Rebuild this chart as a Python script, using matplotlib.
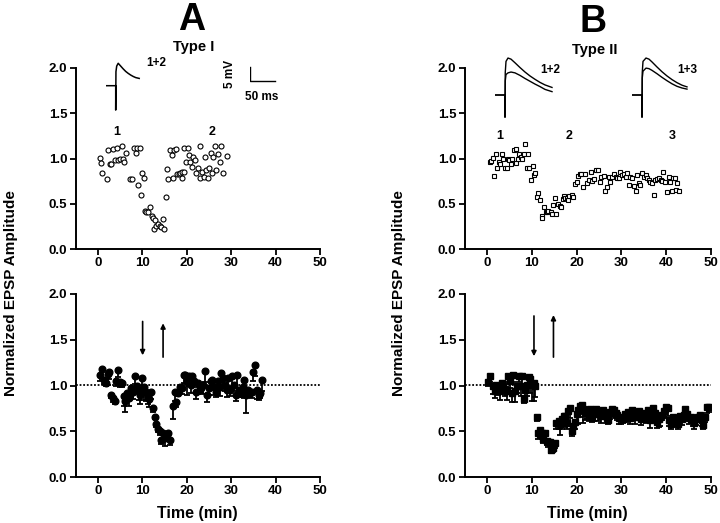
import numpy as np
import matplotlib
matplotlib.use("Agg")
import matplotlib.pyplot as plt

plt.rcParams['font.family'] = ['Liberation Sans', 'DejaVu Sans']
plt.rcParams['font.weight'] = 'bold'

# ----- single experiments (top row) -----
t1 = [0.4, 0.7, 1.0, 2.1, 2.4, 2.75, 3.0, 3.4, 3.9, 4.4,
      4.5, 4.9, 5.4, 5.7, 6.0, 6.4, 7.2, 7.7, 8.2, 8.5,
      8.8, 9.1, 9.4, 9.7, 10.0, 10.3, 10.6, 10.9, 11.3, 11.7,
      12.1, 12.4, 12.6, 12.9, 13.2, 13.6, 13.9, 14.3, 14.7, 15.0,
      15.3, 15.6, 15.9, 16.3, 16.6, 17.0, 17.2, 17.6, 17.9, 18.2,
      18.6, 18.9, 19.0, 19.4, 19.5, 19.8, 20.2, 20.5, 20.8, 21.1,
      21.4, 21.9, 22.1, 22.6, 22.9, 23.1, 23.5, 23.8, 24.2, 24.4,
      24.8, 25.1, 25.4, 25.7, 26.0, 26.4, 26.7, 27.0, 27.5, 27.8,
      28.1, 29.1]
v1 = [1.01, 0.95, 0.84, 0.77, 1.09, 0.94, 0.94, 1.11, 0.98, 1.12,
      0.98, 0.99, 1.14, 1.00, 0.96, 1.06, 0.77, 0.77, 1.12, 1.06,
      1.12, 0.71, 1.12, 0.60, 0.84, 0.79, 0.42, 0.41, 0.41, 0.46,
      0.37, 0.34, 0.22, 0.32, 0.25, 0.28, 0.25, 0.24, 0.33, 0.22,
      0.58, 0.88, 0.77, 1.09, 1.04, 0.78, 1.09, 1.11, 0.83, 0.83,
      0.84, 0.79, 0.85, 0.85, 1.12, 0.96, 1.12, 1.04, 0.96, 0.91,
      1.02, 0.98, 0.84, 0.90, 1.14, 0.79, 0.85, 0.80, 1.02, 0.87,
      0.79, 0.90, 1.06, 0.84, 1.02, 1.14, 0.87, 1.05, 0.96, 1.14,
      0.84, 1.03]

t2 = [0.7, 1.0, 1.3, 1.6, 2.0, 2.3, 2.7, 3.0, 3.4, 3.7,
      4.0, 4.4, 4.7, 5.0, 5.3, 5.7, 6.0, 6.4, 6.6, 6.9,
      7.2, 7.5, 7.8, 8.2, 8.5, 8.9, 9.2, 9.5, 9.8, 10.2,
      10.5, 10.8, 11.1, 11.4, 11.9, 12.2, 12.4, 12.8, 13.1, 13.4,
      13.7, 14.2, 14.6, 14.8, 15.1, 15.4, 15.8, 16.2, 16.6, 16.9,
      17.2, 17.5, 17.8, 18.1, 18.4, 18.9, 19.2, 19.7, 20.0, 20.3,
      20.7, 21.1, 21.5, 21.9, 22.3, 22.8, 23.2, 23.5, 23.9, 24.4,
      24.8, 25.2, 25.5, 26.1, 26.4, 26.7, 27.2, 27.5, 27.9, 28.3,
      28.7, 29.1, 29.5, 29.8, 30.2, 30.5, 31.0, 31.3, 31.7, 32.0,
      32.4, 32.8, 33.2, 33.5, 33.9, 34.2, 34.6, 35.0, 35.4, 35.8,
      36.2, 36.5, 36.9, 37.2, 37.5, 38.0, 38.5, 38.8, 39.1, 39.4,
      39.8, 40.2, 40.6, 40.9, 41.2, 41.5, 41.9, 42.1, 42.5, 42.8]
v2 = [0.96, 0.97, 1.01, 0.81, 1.05, 0.90, 0.96, 0.94, 1.05, 0.99,
      0.90, 0.90, 1.00, 0.98, 0.94, 0.99, 1.09, 1.10, 0.95, 0.99,
      1.05, 1.02, 0.99, 1.05, 1.16, 0.90, 1.05, 0.90, 0.76, 0.92,
      0.82, 0.84, 0.57, 0.62, 0.54, 0.37, 0.34, 0.46, 0.41, 0.41,
      0.42, 0.41, 0.39, 0.49, 0.56, 0.39, 0.50, 0.47, 0.46, 0.55,
      0.59, 0.56, 0.56, 0.54, 0.59, 0.60, 0.58, 0.72, 0.74, 0.81,
      0.83, 0.83, 0.69, 0.83, 0.73, 0.76, 0.85, 0.75, 0.77, 0.87,
      0.87, 0.74, 0.80, 0.81, 0.64, 0.69, 0.80, 0.74, 0.80, 0.83,
      0.80, 0.78, 0.79, 0.85, 0.82, 0.83, 0.80, 0.84, 0.71, 0.80,
      0.78, 0.70, 0.64, 0.82, 0.73, 0.71, 0.84, 0.80, 0.82, 0.78,
      0.76, 0.74, 0.73, 0.60, 0.76, 0.77, 0.79, 0.76, 0.75, 0.85,
      0.74, 0.63, 0.80, 0.74, 0.64, 0.78, 0.78, 0.65, 0.73, 0.64]

# ----- pooled data, mean with lower SEM (bottom row) -----
t3 = [0.5, 0.9, 1.3, 1.8, 2.2, 2.6, 3.0, 3.4, 3.8, 4.2,
      4.6, 5.0, 5.4, 5.8, 6.2, 6.6, 7.0, 7.5, 8.0, 8.4,
      8.8, 9.2, 9.6, 10.0, 10.4, 10.8, 11.2, 11.6, 12.0, 12.4,
      12.8, 13.2, 13.6, 14.0, 14.3, 14.7, 15.1, 15.5, 15.9, 16.3,
      16.9, 17.3, 17.7, 18.1, 18.5, 18.9, 19.3, 19.7, 20.1, 20.5,
      20.9, 21.3, 21.7, 22.1, 22.5, 22.9, 23.3, 23.7, 24.2, 24.6,
      25.0, 25.4, 25.8, 26.2, 26.6, 27.0, 27.4, 27.8, 28.2, 28.6,
      29.0, 29.4, 29.8, 30.2, 30.6, 31.0, 31.4, 31.8, 32.2, 32.6,
      33.0, 33.4, 33.8, 34.2, 34.6, 35.0, 35.4, 35.8, 36.2, 36.6,
      37.0]
v3 = [1.12, 1.18, 1.06, 1.03, 1.13, 1.15, 0.90, 0.86, 0.83, 1.05,
      1.17, 1.04, 1.03, 0.88, 0.83, 0.92, 0.86, 0.97, 0.93, 1.10,
      1.00, 0.94, 0.90, 1.08, 0.98, 0.93, 0.89, 0.85, 0.93, 0.75,
      0.66, 0.58, 0.52, 0.50, 0.40, 0.48, 0.43, 0.47, 0.48, 0.40,
      0.78, 0.93, 0.82, 0.92, 0.98, 0.97, 1.11, 1.12, 1.05, 1.10,
      1.01, 1.10, 1.05, 0.93, 1.03, 1.00, 0.97, 1.01, 1.16, 0.90,
      0.97, 1.05, 1.06, 0.98, 0.93, 1.05, 0.98, 1.14, 1.08, 1.01,
      0.95, 1.08, 0.95, 1.10, 1.01, 0.90, 1.12, 0.95, 0.93, 0.98,
      1.06, 0.90, 0.95, 0.92, 0.93, 1.15, 1.22, 0.95, 0.90, 0.92,
      1.06]
e3 = [0.07, 0.10, 0.04, 0.04, 0.12, 0.08, 0.04, 0.04, 0.03, 0.05,
      0.08, 0.06, 0.05, 0.10, 0.12, 0.04, 0.08, 0.10, 0.08, 0.08,
      0.07, 0.10, 0.10, 0.14, 0.14, 0.10, 0.09, 0.08, 0.08, 0.04,
      0.03, 0.03, 0.03, 0.04, 0.04, 0.07, 0.09, 0.08, 0.06, 0.05,
      0.15, 0.10, 0.06, 0.04, 0.07, 0.06, 0.08, 0.10, 0.15, 0.10,
      0.09, 0.12, 0.07, 0.08, 0.12, 0.08, 0.05, 0.10, 0.12, 0.08,
      0.07, 0.08, 0.07, 0.08, 0.06, 0.06, 0.10, 0.10, 0.09, 0.07,
      0.08, 0.08, 0.07, 0.12, 0.07, 0.07, 0.15, 0.06, 0.06, 0.11,
      0.20, 0.20, 0.06, 0.05, 0.07, 0.10, 0.12, 0.10, 0.06, 0.06,
      0.12]

t4 = [0.3, 0.8, 1.3, 1.7, 2.1, 2.5, 2.9, 3.3, 3.6, 4.0,
      4.4, 4.8, 5.2, 5.6, 5.9, 6.3, 6.7, 7.1, 7.5, 7.9,
      8.2, 8.6, 9.0, 9.4, 9.7, 10.1, 10.5, 10.8, 11.1, 11.4,
      11.8, 12.2, 12.5, 13.0, 13.3, 13.7, 14.0, 14.4, 14.8, 15.1,
      15.5, 16.0, 16.3, 16.7, 17.1, 17.4, 17.8, 18.2, 18.6, 18.9,
      19.3, 19.7, 20.0, 20.4, 20.8, 21.2, 21.5, 21.9, 22.3, 22.7,
      23.1, 23.5, 23.9, 24.3, 24.7, 25.1, 25.5, 25.9, 26.3, 26.7,
      27.1, 27.5, 27.9, 28.3, 28.7, 29.1, 29.5, 29.9, 30.3, 30.7,
      31.1, 31.5, 31.9, 32.3, 32.7, 33.1, 33.5, 33.9, 34.3, 34.7,
      35.1, 35.5, 35.9, 36.3, 36.7, 37.1, 37.5, 37.9, 38.3, 38.7,
      39.1, 39.5, 39.9, 40.3, 40.7, 41.1, 41.5, 41.9, 42.3, 42.7,
      43.1, 43.5, 43.9, 44.3, 44.7, 45.1, 45.5, 45.9, 46.3, 46.7,
      47.1, 47.5, 47.9, 48.3, 48.7, 49.1, 49.5]
v4 = [1.04, 1.10, 0.99, 0.94, 1.01, 0.98, 0.94, 1.03, 1.00, 0.96,
      0.94, 1.10, 1.05, 0.92, 1.12, 0.94, 0.99, 1.10, 0.99, 1.10,
      0.85, 0.95, 1.01, 1.09, 1.07, 1.01, 1.03, 0.99, 0.66, 0.48,
      0.51, 0.48, 0.41, 0.48, 0.39, 0.38, 0.38, 0.30, 0.32, 0.37,
      0.59, 0.61, 0.58, 0.63, 0.67, 0.67, 0.59, 0.72, 0.75, 0.50,
      0.56, 0.60, 0.69, 0.73, 0.78, 0.79, 0.74, 0.70, 0.73, 0.69,
      0.74, 0.66, 0.71, 0.74, 0.69, 0.72, 0.67, 0.73, 0.70, 0.65,
      0.62, 0.71, 0.74, 0.73, 0.70, 0.68, 0.64, 0.66, 0.63, 0.69,
      0.66, 0.71, 0.64, 0.73, 0.68, 0.66, 0.69, 0.72, 0.63, 0.67,
      0.70, 0.65, 0.73, 0.62, 0.67, 0.75, 0.70, 0.60, 0.63, 0.66,
      0.68, 0.72, 0.77, 0.75, 0.62, 0.58, 0.66, 0.62, 0.65, 0.58,
      0.67, 0.63, 0.68, 0.74, 0.69, 0.64, 0.66, 0.62, 0.59, 0.63,
      0.66, 0.68, 0.62, 0.57, 0.66, 0.76, 0.77]
e4 = [0.04, 0.06, 0.08, 0.08, 0.06, 0.08, 0.10, 0.05, 0.06, 0.07,
      0.10, 0.06, 0.08, 0.10, 0.08, 0.12, 0.07, 0.06, 0.10, 0.08,
      0.04, 0.06, 0.12, 0.10, 0.15, 0.18, 0.20, 0.12, 0.05, 0.06,
      0.08, 0.06, 0.04, 0.06, 0.04, 0.05, 0.04, 0.04, 0.05, 0.05,
      0.06, 0.08, 0.12, 0.10, 0.10, 0.12, 0.06, 0.10, 0.10, 0.05,
      0.06, 0.08, 0.10, 0.15, 0.12, 0.10, 0.15, 0.08, 0.10, 0.08,
      0.08, 0.06, 0.10, 0.08, 0.08, 0.06, 0.08, 0.06, 0.06, 0.06,
      0.04, 0.08, 0.08, 0.06, 0.06, 0.06, 0.06, 0.08, 0.04, 0.08,
      0.06, 0.10, 0.06, 0.08, 0.06, 0.08, 0.06, 0.10, 0.06, 0.06,
      0.08, 0.06, 0.10, 0.08, 0.06, 0.10, 0.06, 0.06, 0.08, 0.10,
      0.06, 0.06, 0.06, 0.08, 0.06, 0.06, 0.06, 0.06, 0.08, 0.06,
      0.06, 0.06, 0.06, 0.08, 0.06, 0.06, 0.06, 0.06, 0.06, 0.06,
      0.06, 0.06, 0.06, 0.04, 0.06, 0.06, 0.06]

baseline = 1.01

# ----- EPSP traces (ms, mV relative to baseline) -----
trI_ms = [0, 20, 20, 20.5, 22, 25, 30, 35, 40, 45, 50, 55, 60, 67]
trI_mv = [0, 0, -8.7, 5.0, 7.0, 8.0, 7.0, 6.0, 5.1, 4.4, 3.8, 3.3, 2.9, 2.6]

trA_ms = [0, 20, 20, 20.5, 22, 26, 32, 40, 50, 60, 70, 80, 90, 100, 114]
trA_up = [0, 0, -7.9, 8.0, 12.0, 13.2, 12.8, 11.5, 9.8, 8.2, 6.8, 5.6, 4.5, 3.6, 2.7]
trA_lo = [0, 0, -7.9, 5.0, 7.3, 7.9, 8.2, 7.9, 7.0, 5.9, 4.9, 3.9, 3.0, 2.0, 1.2]

trB_ms = [0, 20, 20, 20.5, 22, 28, 34, 40, 50, 60, 70, 80, 90, 100, 110]
trB_up = [0, 0, -7.9, 8.0, 12.0, 13.2, 12.8, 11.8, 10.0, 8.3, 6.8, 5.5, 4.4, 3.5, 2.9]
trB_lo = [0, 0, -7.9, 6.0, 8.5, 9.6, 9.4, 8.8, 7.6, 6.3, 5.1, 4.0, 3.1, 2.5, 2.1]

W, H = 720, 523
fig = plt.figure(figsize=(7.2, 5.23), dpi=100)


def px_rect(x0, y0, x1, y1):
    # pixel box (y downward) -> figure fraction
    return [x0 / W, 1 - y1 / H, (x1 - x0) / W, (y1 - y0) / H]


def style(ax):
    ax.set_xlim(-5, 50)
    ax.set_ylim(0, 2.0)
    ax.set_xticks([0, 10, 20, 30, 40, 50])
    ax.set_yticks([0, 0.5, 1.0, 1.5, 2.0])
    ax.set_yticklabels(['0.0', '0.5', '1.0', '1.5', '2.0'])
    for s in ['top', 'right']:
        ax.spines[s].set_visible(False)
    for s in ['left', 'bottom']:
        ax.spines[s].set_linewidth(1.4)
    ax.tick_params(direction='out', length=4, width=1.3, labelsize=9.5, pad=2)
    for lab in ax.get_xticklabels() + ax.get_yticklabels():
        lab.set_fontweight('bold')


ax_tl = fig.add_axes(px_rect(75.5, 68, 320, 249))
ax_bl = fig.add_axes(px_rect(75.5, 294, 320, 477))
ax_tr = fig.add_axes(px_rect(464.5, 68, 711, 249))
ax_br = fig.add_axes(px_rect(464.5, 294, 711, 477))
for a in (ax_tl, ax_bl, ax_tr, ax_br):
    style(a)

ax_tl.plot(t1, v1, 'o', mfc='white', mec='black', ms=3.6, mew=0.8)
ax_tr.plot(t2, v2, 's', mfc='white', mec='black', ms=3.3, mew=0.8)

for ax, t, v, e, m in ((ax_bl, t3, v3, e3, 'o'), (ax_br, t4, v4, e4, 's')):
    ax.axhline(baseline, ls=(0, (1, 1)), lw=1.3, color='black')
    ax.errorbar(t, v, yerr=[e, np.zeros(len(e))], fmt=m, color='black',
                ms=4.8, elinewidth=1.3, capsize=2.4, capthick=1.3)

arrow = dict(arrowstyle='-|>', lw=1.2, color='black', mutation_scale=7,
             shrinkA=0, shrinkB=0)
ax_bl.annotate('', xy=(10.1, 1.33), xytext=(10.1, 1.70), arrowprops=arrow)
ax_bl.annotate('', xy=(14.7, 1.68), xytext=(14.7, 1.31), arrowprops=arrow)
ax_br.annotate('', xy=(10.5, 1.32), xytext=(10.5, 1.76), arrowprops=arrow)
ax_br.annotate('', xy=(14.85, 1.77), xytext=(14.85, 1.31), arrowprops=arrow)

# period labels
ax_tl.text(4.2, 1.29, '1', ha='center', va='center', fontsize=9, fontweight='bold')
ax_tl.text(25.7, 1.29, '2', ha='center', va='center', fontsize=9, fontweight='bold')
ax_tr.text(2.9, 1.25, '1', ha='center', va='center', fontsize=9, fontweight='bold')
ax_tr.text(18.3, 1.25, '2', ha='center', va='center', fontsize=9, fontweight='bold')
ax_tr.text(41.3, 1.25, '3', ha='center', va='center', fontsize=9, fontweight='bold')

for ax in (ax_bl, ax_br):
    ax.set_xlabel('Time (min)', fontsize=11.5, fontweight='bold', labelpad=6)

# trace insets: 2 ms per px, 0.357 mV per px
MS_PX, MV_PX = 2.0, 0.357


def trace_axes(x0, yb, wpx, hpx=56):
    a = fig.add_axes(px_rect(x0, yb - hpx, x0 + wpx, yb + hpx), facecolor='none')
    a.set_xlim(0, wpx * MS_PX)
    a.set_ylim(-hpx * MV_PX, hpx * MV_PX)
    a.axis('off')
    return a


a = trace_axes(105.7, 85.7, 80)
a.plot(trI_ms, trI_mv, color='black', lw=1.1)
a = trace_axes(495, 95, 80)
a.plot(trA_ms, trA_up, color='black', lw=1.0)
a.plot(trA_ms, trA_lo, color='black', lw=1.0)
a = trace_axes(632, 95, 80)
a.plot(trB_ms, trB_up, color='black', lw=1.0)
a.plot(trB_ms, trB_lo, color='black', lw=1.0)

# scale bar: 5 mV / 50 ms
sb = trace_axes(250, 81, 40)
sb.plot([0, 0, 50], [5, 0, 0], color='black', lw=1.0)

fig.text(146 / W, 1 - 63 / H, '1+2', ha='left', va='center', fontsize=8.5, fontweight='bold')
fig.text(540 / W, 1 - 70 / H, '1+2', ha='left', va='center', fontsize=8.5, fontweight='bold')
fig.text(677 / W, 1 - 70 / H, '1+3', ha='left', va='center', fontsize=8.5, fontweight='bold')
fig.text(230 / W, 1 - 74 / H, '5 mV', ha='center', va='center', rotation=90,
         fontsize=8.5, fontweight='bold')
fig.text(262 / W, 1 - 97 / H, '50 ms', ha='center', va='center', fontsize=8.5,
         fontweight='bold')

fig.text(192 / W, 1 - 20 / H, 'A', ha='center', va='center', fontsize=27, fontweight='bold')
fig.text(593 / W, 1 - 22 / H, 'B', ha='center', va='center', fontsize=27, fontweight='bold')
fig.text(194 / W, 1 - 47 / H, 'Type I', ha='center', va='center', fontsize=10.5,
         fontweight='bold')
fig.text(595 / W, 1 - 50 / H, 'Type II', ha='center', va='center', fontsize=10.5,
         fontweight='bold')

fig.text(11 / W, 1 - 293 / H, 'Normalized EPSP Amplitude', ha='center', va='center',
         rotation=90, fontsize=11, fontweight='bold')
fig.text(399 / W, 1 - 293 / H, 'Normalized EPSP Amplitude', ha='center', va='center',
         rotation=90, fontsize=11, fontweight='bold')

fig.savefig('out.png', dpi=100)
